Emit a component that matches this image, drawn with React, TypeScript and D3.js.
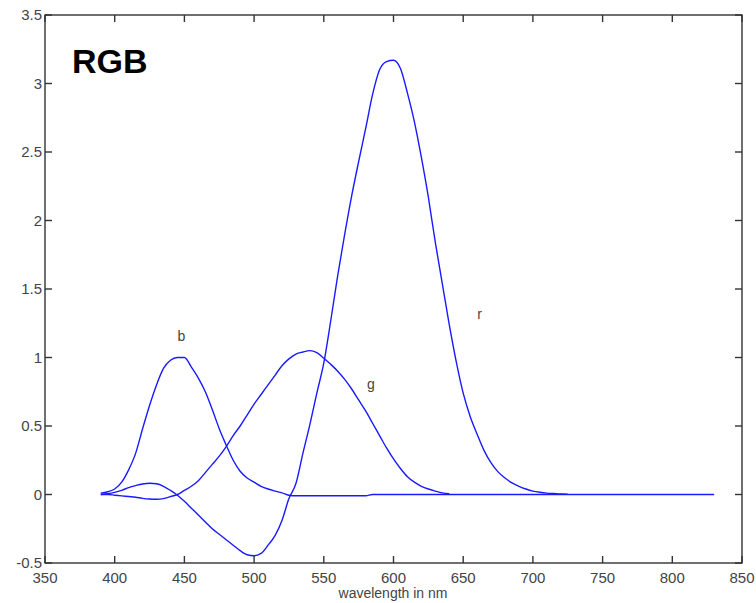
import React from "react";
import * as d3 from "d3";

const wavelengths = [390,395,400,405,410,415,420,425,430,435,440,445,450,455,460,465,470,475,480,485,490,495,500,505,510,515,520,525,530,535,540,545,550,555,560,565,570,575,580,585,590,595,600,605,610,615,620,625,630,635,640,645,650,655,660,665,670,675,680,685,690,695,700,705,710,715,720,725];

const rValues = [0,0.005,0.015,0.03,0.05,0.065,0.077,0.082,0.078,0.06,0.03,-0.005,-0.05,-0.1,-0.15,-0.2,-0.25,-0.29,-0.33,-0.37,-0.41,-0.44,-0.447,-0.43,-0.37,-0.3,-0.19,-0.03,0.08,0.3,0.51,0.74,0.96,1.27,1.6,1.9,2.18,2.43,2.67,2.92,3.1,3.16,3.17,3.11,2.93,2.72,2.46,2.17,1.84,1.54,1.24,0.97,0.74,0.57,0.44,0.32,0.23,0.165,0.12,0.085,0.06,0.04,0.025,0.016,0.01,0.007,0.004,0.003];

const gWavelengths = [390,395,400,405,410,415,420,425,430,435,440,445,450,455,460,465,470,475,480,485,490,495,500,505,510,515,520,525,530,535,540,545,550,555,560,565,570,575,580,585,590,595,600,605,610,615,620,625,630,635,640];
const gValues = [0,0,-0.005,-0.01,-0.015,-0.02,-0.028,-0.033,-0.035,-0.03,-0.015,0,0.03,0.06,0.1,0.16,0.22,0.28,0.35,0.43,0.5,0.58,0.66,0.73,0.8,0.87,0.94,0.99,1.025,1.04,1.05,1.035,0.995,0.95,0.9,0.84,0.77,0.69,0.61,0.52,0.43,0.34,0.26,0.19,0.13,0.09,0.06,0.04,0.025,0.012,0.005];

const bWavelengths = [390,395,400,405,410,415,420,425,430,435,440,445,450,455,460,465,470,475,480,485,490,495,500,505,510,515,520,525,530,580,585,830];
const bValues = [0.01,0.02,0.04,0.09,0.18,0.3,0.48,0.65,0.8,0.92,0.98,1.0,1.0,0.93,0.85,0.75,0.62,0.48,0.36,0.25,0.17,0.12,0.09,0.06,0.04,0.025,0.012,-0.005,-0.009,-0.009,0,0];

const xTicks = [350,400,450,500,550,600,650,700,750,800,850];
const yTicks = [-0.5,0,0.5,1,1.5,2,2.5,3,3.5];
const curveLabels = [
  { text: "b", x: 445, y: 1.12 },
  { text: "g", x: 581, y: 0.77 },
  { text: "r", x: 660, y: 1.28 },
];

export default function App() {
  const left = 45, right = 742, top = 15, bottom = 563;
  const x = d3.scaleLinear().domain([350, 850]).range([left, right]);
  const y = d3.scaleLinear().domain([-0.5, 3.5]).range([bottom, top]);
  const line = d3.line<[number, number]>().x(d => x(d[0])).y(d => y(d[1])).curve(d3.curveMonotoneX);
  const series = [
    wavelengths.map((w, i) => [w, rValues[i]] as [number, number]),
    gWavelengths.map((w, i) => [w, gValues[i]] as [number, number]),
    bWavelengths.map((w, i) => [w, bValues[i]] as [number, number]),
  ];
  const tick = 7;
  const axisColor = "#333";
  const font = "Arial, 'Liberation Sans', Helvetica, sans-serif";
  return (
    <svg width={756} height={603} style={{ position: "absolute", left: 0, top: 0, background: "#fff" }}>
      <rect x={0} y={0} width={756} height={603} fill="#fff" />
      {series.map((s, i) => (
        <path key={i} d={line(s) || ""} fill="none" stroke="#1a1aff" strokeWidth={1.4} />
      ))}
      <rect x={left} y={top} width={right - left} height={bottom - top} fill="none" stroke={axisColor} strokeWidth={1.4} />
      {xTicks.map(t => (
        <g key={"x" + t}>
          <line x1={x(t)} x2={x(t)} y1={bottom} y2={bottom - tick} stroke={axisColor} strokeWidth={1.4} />
          <line x1={x(t)} x2={x(t)} y1={top} y2={top + tick} stroke={axisColor} strokeWidth={1.4} />
          <text x={x(t)} y={583} textAnchor="middle" fontFamily={font} fontSize={15} fill="#444">{t}</text>
        </g>
      ))}
      {yTicks.map(t => (
        <g key={"y" + t}>
          <line x1={left} x2={left + tick} y1={y(t)} y2={y(t)} stroke={axisColor} strokeWidth={1.4} />
          <line x1={right} x2={right - tick} y1={y(t)} y2={y(t)} stroke={axisColor} strokeWidth={1.4} />
          <text x={42} y={y(t) + 5} textAnchor="end" fontFamily={font} fontSize={15} fill="#444">{t}</text>
        </g>
      ))}
      <text x={393} y={598} textAnchor="middle" fontFamily={font} fontSize={14} fill="#444">wavelength in nm</text>
      <text x={72} y={72.5} fontFamily={font} fontSize={34} fontWeight="bold" fill="#000">RGB</text>
      {curveLabels.map(l => (
        <text key={l.text} x={x(l.x)} y={y(l.y)} fontFamily={font} fontSize={14} fill="#444">{l.text}</text>
      ))}
    </svg>
  );
}
